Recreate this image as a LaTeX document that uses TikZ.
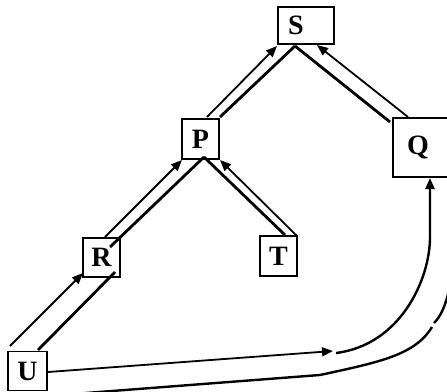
\documentclass[tikz,border=0pt]{standalone}
\usepackage{fontspec}
\setmainfont{Liberation Serif}
\usetikzlibrary{arrows.meta}
\begin{document}
\begin{tikzpicture}[x=1pt,y=-1pt,
 box/.style={draw,line width=1.6pt,inner sep=0pt,font=\fontsize{28}{28}\selectfont\bfseries},
 tip/.style={-{Triangle[length=11pt,width=9pt]}},
 arr/.style={line width=1.8pt,tip},
 plain/.style={line width=2.8pt},
 curve/.style={line width=2.4pt},
]
\useasboundingbox (0,0) rectangle (447,391);
\node[box,minimum width=56pt,minimum height=37pt] (S) at (306,25.5) {S\kern20pt};
\node[box,minimum width=60pt,minimum height=59pt] (Q) at (423,147.5) {Q\kern10pt};
\node[box,minimum width=37pt,minimum height=40pt] (P) at (200.5,139) {P};
\node[box,minimum width=37pt,minimum height=40pt] (T) at (278.5,256) {T};
\node[box,minimum width=37pt,minimum height=39pt] (R) at (101.5,257.5) {R};
\node[box,minimum width=39pt,minimum height=39pt] (U) at (27.5,371) {U};

% endpoints
\coordinate (u1) at (10,346);   \coordinate (r1) at (83,273);
\coordinate (u2) at (38,350);   \coordinate (r2) at (115,272);
\coordinate (r3) at (105,237);  \coordinate (p1) at (182,160);
\coordinate (r4) at (110,247);  \coordinate (p2) at (204,157);
\coordinate (p3) at (207,117);  \coordinate (s1) at (277,46);
\coordinate (p4) at (220,117);  \coordinate (s2) at (295,46);
\coordinate (q1) at (390,122);
\coordinate (q2) at (408,117);  \coordinate (s3) at (317,45);
\coordinate (t1) at (285,235);
\coordinate (t2) at (297,236);  \coordinate (p5) at (220,160);
\coordinate (u3) at (48,372);   \coordinate (m1) at (333,351);
\coordinate (m2) at (336,353);  \coordinate (m3) at (430,237);
\coordinate (q3) at (430,178);
\coordinate (u4) at (47,396);   \coordinate (l1) at (320,375);
\coordinate (l2) at (432,327);  \coordinate (l3) at (434,323);
\coordinate (l4) at (455,240);

\draw[arr] (u1) -- (r1);
\draw[plain] (u2) -- (r2);
\draw[arr] (r3) -- (p1);
\draw[plain] (r4) -- (p2);
\draw[arr] (p3) -- (s1);
\draw[plain] (p4) -- (s2);
\draw[plain] (s2) -- (q1);
\draw[arr] (q2) -- (s3);
\draw[plain] (t1) -- (p2);
\draw[arr] (t2) -- (p5);
\draw[arr] (u3) -- (m1);
\draw[curve,tip] (m2) .. controls (400,345) and (430,280) .. (m3) -- (q3);
\draw[curve] (u4) -- (l1) .. controls (380,362) and (415,355) .. (l2);
\draw[curve] (l3) .. controls (445,312) and (452,290) .. (l4);
\end{tikzpicture}
\end{document}
